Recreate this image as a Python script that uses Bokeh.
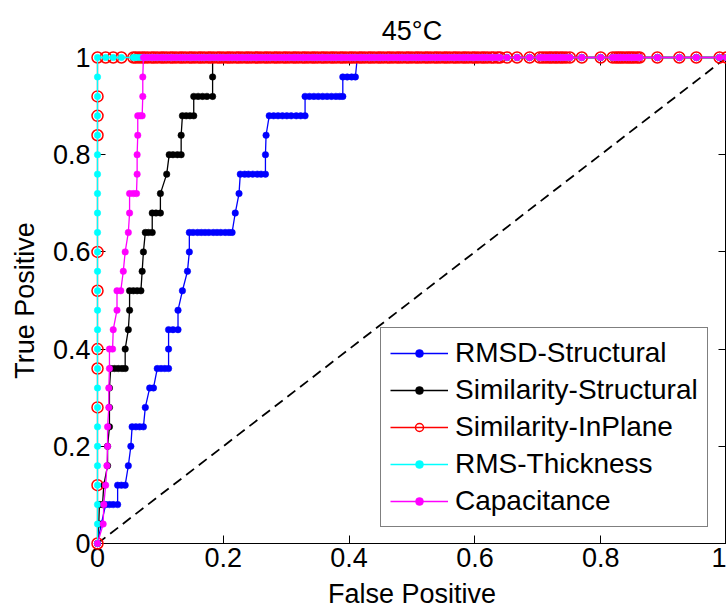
from bokeh.plotting import figure
from bokeh.models import Range1d, LinearAxis, Legend, LegendItem, FixedTicker
from bokeh.embed import file_html
from bokeh.resources import INLINE

TITLE = "45°C"
X_LABEL = "False Positive"
Y_LABEL = "True Positive"
TICKS = [0.0, 0.2, 0.4, 0.6, 0.8, 1.0]
TICK_LABELS = ["0", "0.2", "0.4", "0.6", "0.8", "1"]

NAMES = ["RMSD-Structural", "Similarity-Structural", "Similarity-InPlane",
         "RMS-Thickness", "Capacitance"]
COLORS = ["#0000FF", "#000000", "#FF0000", "#00FFFF", "#FF00FF"]

rmsd_fpr = [0.000, 0.006, 0.013, 0.019, 0.025, 0.032, 0.032, 0.038, 0.044, 0.049,
            0.053, 0.055, 0.061, 0.067, 0.073, 0.076, 0.083, 0.089, 0.095, 0.101,
            0.107, 0.113, 0.113, 0.113, 0.120, 0.128, 0.128, 0.135, 0.143, 0.146,
            0.146, 0.152, 0.159, 0.165, 0.171, 0.177, 0.184, 0.190, 0.196, 0.203,
            0.209, 0.214, 0.219, 0.225, 0.227, 0.234, 0.240, 0.247, 0.254, 0.260,
            0.267, 0.267, 0.268, 0.273, 0.280, 0.287, 0.294, 0.301, 0.308, 0.316,
            0.323, 0.330, 0.330, 0.337, 0.344, 0.351, 0.358, 0.365, 0.372, 0.379,
            0.385, 0.390, 0.390, 0.397, 0.404, 0.410, 0.413]
rmsd_tpr = [0.00, 0.04, 0.08, 0.08, 0.08, 0.08, 0.12, 0.12, 0.12, 0.16,
            0.20, 0.24, 0.24, 0.24, 0.24, 0.28, 0.32, 0.32, 0.36, 0.36,
            0.36, 0.36, 0.40, 0.44, 0.44, 0.44, 0.48, 0.52, 0.56, 0.60,
            0.64, 0.64, 0.64, 0.64, 0.64, 0.64, 0.64, 0.64, 0.64, 0.64,
            0.64, 0.64, 0.68, 0.72, 0.76, 0.76, 0.76, 0.76, 0.76, 0.76,
            0.76, 0.80, 0.84, 0.88, 0.88, 0.88, 0.88, 0.88, 0.88, 0.88,
            0.88, 0.88, 0.92, 0.92, 0.92, 0.92, 0.92, 0.92, 0.92, 0.92,
            0.92, 0.92, 0.96, 0.96, 0.96, 0.96, 1.00]

simstruct_fpr = [0.000, 0.002, 0.003, 0.008, 0.010, 0.016, 0.016, 0.019, 0.019, 0.019,
                 0.021, 0.027, 0.033, 0.039, 0.044, 0.044, 0.049, 0.051, 0.051, 0.057,
                 0.063, 0.069, 0.071, 0.073, 0.076, 0.081, 0.087, 0.087, 0.093, 0.100,
                 0.100, 0.110, 0.114, 0.120, 0.127, 0.133, 0.133, 0.135, 0.141, 0.147,
                 0.153, 0.153, 0.160, 0.167, 0.174, 0.183, 0.183, 0.183]
simstruct_tpr = [0.00, 0.04, 0.08, 0.08, 0.12, 0.16, 0.20, 0.24, 0.28, 0.32,
                 0.36, 0.36, 0.36, 0.36, 0.36, 0.40, 0.44, 0.48, 0.52, 0.52,
                 0.52, 0.52, 0.56, 0.60, 0.64, 0.64, 0.64, 0.68, 0.68, 0.68,
                 0.72, 0.76, 0.80, 0.80, 0.80, 0.80, 0.84, 0.88, 0.88, 0.88,
                 0.88, 0.92, 0.92, 0.92, 0.92, 0.92, 0.96, 1.00]

inplane_fpr = [0.0, 0.0, 0.0, 0.0, 0.0, 0.0, 0.0, 0.0, 0.0, 0.0, 0.0]
inplane_tpr = [0.00, 0.12, 0.28, 0.36, 0.40, 0.52, 0.60, 0.84, 0.88, 0.92, 1.00]

thick_fpr = [0.0] * 26
thick_tpr = [0.00, 0.04, 0.08, 0.12, 0.16, 0.20, 0.24, 0.28, 0.32, 0.36,
             0.40, 0.44, 0.48, 0.52, 0.56, 0.60, 0.64, 0.68, 0.72, 0.76,
             0.80, 0.84, 0.88, 0.92, 0.96, 1.00]

cap_fpr = [0.000, 0.009, 0.010, 0.013, 0.015, 0.016, 0.016, 0.018, 0.018, 0.019,
           0.019, 0.024, 0.025, 0.031, 0.031, 0.037, 0.041, 0.044, 0.049, 0.051,
           0.051, 0.057, 0.062, 0.063, 0.063, 0.064, 0.064, 0.068, 0.071, 0.072,
           0.072, 0.073]
cap_tpr = [0.00, 0.04, 0.08, 0.12, 0.16, 0.20, 0.24, 0.28, 0.32, 0.36,
           0.40, 0.40, 0.44, 0.48, 0.52, 0.52, 0.56, 0.60, 0.64, 0.68,
           0.72, 0.72, 0.72, 0.76, 0.80, 0.84, 0.88, 0.88, 0.88, 0.92,
           0.96, 1.00]

# false-positive rates of the points drawn along TPR = 1
top_fpr = [0.013, 0.025, 0.038, 0.057, 0.061, 0.066, 0.071, 0.075, 0.080, 0.086,
           0.090, 0.095, 0.101, 0.105, 0.110, 0.116, 0.120, 0.125, 0.131, 0.135,
           0.140, 0.146, 0.150, 0.155, 0.161, 0.165, 0.170, 0.176, 0.180, 0.185,
           0.191, 0.195, 0.200, 0.206, 0.210, 0.215, 0.221, 0.225, 0.230, 0.236,
           0.240, 0.245, 0.251, 0.255, 0.260, 0.266, 0.270, 0.275, 0.281, 0.285,
           0.290, 0.296, 0.300, 0.305, 0.311, 0.315, 0.320, 0.326, 0.330, 0.335,
           0.341, 0.345, 0.350, 0.356, 0.360, 0.365, 0.371, 0.375, 0.380, 0.386,
           0.390, 0.395, 0.401, 0.405, 0.410, 0.416, 0.420, 0.425, 0.431, 0.435,
           0.440, 0.446, 0.450, 0.455, 0.461, 0.465, 0.470, 0.476, 0.480, 0.485,
           0.491, 0.495, 0.500, 0.506, 0.510, 0.515, 0.521, 0.525, 0.530, 0.536,
           0.540, 0.545, 0.551, 0.555, 0.560, 0.566, 0.570, 0.575, 0.581, 0.585,
           0.590, 0.596, 0.600, 0.605, 0.611, 0.615, 0.620, 0.626, 0.630, 0.636,
           0.640, 0.651, 0.667, 0.687, 0.703, 0.708, 0.713, 0.718, 0.722, 0.727,
           0.731, 0.736, 0.740, 0.745, 0.751, 0.770, 0.800, 0.819, 0.824, 0.828,
           0.832, 0.836, 0.841, 0.845, 0.849, 0.853, 0.858, 0.862, 0.890, 0.925,
           0.952, 0.989, 1.000]

chance_fpr = [0.0, 1.0]
chance_tpr = [0.0, 1.0]


def with_top(fpr, tpr):
    xs = list(fpr) + [t for t in top_fpr if t > fpr[-1]]
    ys = list(tpr) + [1.0] * (len(xs) - len(fpr))
    return xs, ys


SERIES = [with_top(rmsd_fpr, rmsd_tpr), with_top(simstruct_fpr, simstruct_tpr),
          with_top(inplane_fpr, inplane_tpr), with_top(thick_fpr, thick_tpr),
          with_top(cap_fpr, cap_tpr)]

FONT = "Liberation Sans"
FS = "27px"
TXT = "#000000"

p = figure(width=726, height=612, x_range=Range1d(0, 1), y_range=Range1d(0, 1),
           output_backend="svg", toolbar_location=None,
           min_border_left=97, min_border_right=0, min_border_top=57,
           min_border_bottom=69)
p.grid.visible = False
p.outline_line_color = "black"
p.background_fill_color = "white"
p.border_fill_color = "white"

ticker = FixedTicker(ticks=TICKS)
overrides = {t: l for t, l in zip(TICKS, TICK_LABELS)}
for ax, lab in ((p.xaxis[0], X_LABEL), (p.yaxis[0], Y_LABEL)):
    ax.ticker = ticker
    ax.major_label_overrides = overrides
    ax.axis_label = lab
    ax.axis_label_text_font = FONT
    ax.axis_label_text_font_size = FS
    ax.axis_label_text_font_style = "normal"
    ax.axis_label_text_color = TXT
    ax.major_label_text_font = FONT
    ax.major_label_text_font_size = FS
    ax.major_label_text_color = TXT
    ax.major_tick_in = 8
    ax.major_tick_out = 0
    ax.minor_tick_in = 0
    ax.minor_tick_out = 0
    ax.axis_line_color = "black"
    ax.major_tick_line_color = "black"
p.xaxis[0].major_label_standoff = 4
p.xaxis[0].axis_label_standoff = 9
p.yaxis[0].major_label_standoff = 7
p.yaxis[0].axis_label_standoff = 10

# tick marks on the right and top edges of the box, without labels;
# the top one carries the chart title
for side in ("right", "above"):
    ax = LinearAxis(ticker=FixedTicker(ticks=TICKS), major_label_text_font_size="1px",
                    major_label_text_color=None,
                    major_tick_in=8, major_tick_out=0, minor_tick_in=0, minor_tick_out=0,
                    major_label_standoff=0, axis_line_color="black",
                    major_tick_line_color="black")
    if side == "above":
        ax.axis_label = TITLE
        ax.axis_label_text_font = FONT
        ax.axis_label_text_font_size = FS
        ax.axis_label_text_font_style = "normal"
        ax.axis_label_text_color = TXT
        ax.axis_label_standoff = 12
    p.add_layout(ax, side)

chance = p.line(chance_fpr, chance_tpr, line_color="black", line_width=1.8,
                line_dash="10 6")

items = []
for (xs, ys), name, col in zip(SERIES, NAMES, COLORS):
    lr = p.line(xs, ys, line_color=col, line_width=1.3)
    if name == "Similarity-InPlane":
        sr = p.scatter(xs, ys, marker="circle", size=11, line_color=col,
                       fill_color=None, line_width=1.5)
    else:
        sr = p.scatter(xs, ys, marker="circle", size=6.5, line_color=col,
                       fill_color=col, line_width=0.5)
    lr.level = "overlay"
    sr.level = "overlay"
    items.append(LegendItem(label=name, renderers=[lr, sr]))

legend = Legend(items=items, location=(283, 16), label_text_font=FONT,
                label_text_font_size="28px", label_text_color=TXT,
                glyph_width=58, glyph_height=20,
                label_standoff=7, spacing=5, padding=9, margin=0,
                border_line_color="black", border_line_width=1,
                background_fill_color="white", background_fill_alpha=1.0)
p.add_layout(legend)

open("out.html", "w").write(file_html(p, INLINE))
